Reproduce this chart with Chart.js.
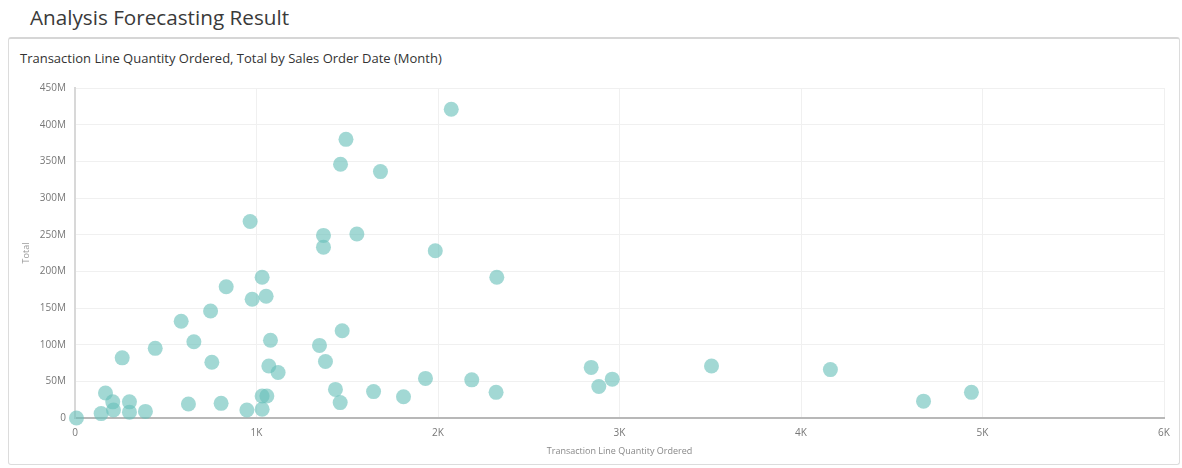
<!DOCTYPE html>
<html>
<head>
<meta charset="utf-8">
<script src="https://cdn.jsdelivr.net/npm/chart.js@4"></script>
<style>
  html, body { margin: 0; padding: 0; background: #fff; }
  body { width: 1182px; height: 468px; position: relative; overflow: hidden; font-family: 'Open Sans', sans-serif; }
  #heading { position: absolute; left: 30px; top: 3px; font-size: 20.7px; color: #3a3a3a; }
  #card { position: absolute; left: 8px; top: 37px; width: 1172px; height: 428px; border: 1px solid #dcdcdc; border-top: 2px solid #d6d6d6; border-radius: 3px; box-sizing: border-box; }
  #subtitle { position: absolute; left: 20px; top: 49px; font-size: 13px; color: #333; }
  #wrap { position: absolute; left: 0; top: 0; width: 1182px; height: 468px; }
</style>
</head>
<body>
<div id="heading">Analysis Forecasting Result</div>
<div id="card"></div>
<div id="subtitle">Transaction Line Quantity Ordered, Total by Sales Order Date (Month)</div>
<div id="wrap"><canvas id="scatterChart" width="1182" height="468"></canvas></div>
<script>
// quantity ordered per month
const qtyOrdered = [
    8, 144, 168, 208, 212, 260, 300, 300, 388, 442,
    585, 625, 655, 747, 754, 805, 833, 947, 965, 976,
    1031, 1053, 1031, 1057, 1031, 1077, 1068, 1119, 1347, 1369,
    1369, 1380, 1435, 1461, 1463, 1472, 1493, 1553, 1645, 1683,
    1810, 1931, 1985, 2073, 2186, 2320, 2324, 2844, 2886, 2960,
    3507, 4162, 4675, 4939
];
// total (millions)
const totalM = [
    0, 6, 34, 22, 11, 82, 22, 8, 9, 95,
    132, 19, 104, 146, 76, 20, 179, 11, 268, 162,
    192, 166, 30, 30, 12, 106, 71, 62, 99, 249,
    233, 77, 39, 21, 346, 119, 380, 251, 36, 336,
    29, 54, 228, 421, 52, 35, 192, 69, 43, 53,
    71, 66, 23, 35
];
const xTickLabels = ['0', '1K', '2K', '3K', '4K', '5K', '6K'];
const yTickLabels = ['0', '50M', '100M', '150M', '200M', '250M', '300M', '350M', '400M', '450M'];

const points = qtyOrdered.map((q, i) => ({ x: q, y: totalM[i] }));

new Chart(document.getElementById('scatterChart'), {
    type: 'scatter',
    data: {
        datasets: [{
            label: 'Total',
            data: points,
            backgroundColor: 'rgba(105, 192, 185, 0.62)',
            borderWidth: 0,
            pointRadius: 7.5,
            pointHoverRadius: 7.5,
            clip: false
        }]
    },
    options: {
        responsive: false,
        animation: false,
        layout: { padding: { left: 0, top: 88, right: 18, bottom: 0 } },
        plugins: { legend: { display: false }, tooltip: { enabled: false } },
        scales: {
            x: {
                type: 'linear', min: 0, max: 6000,
                afterFit: s => { s.height = 50; },
                afterBuildTicks: s => { s.ticks = xTickLabels.map((_, i) => ({ value: i * 1000 })); },
                ticks: {
                    padding: 9, color: '#777', font: { family: 'Open Sans', size: 10 },
                    maxRotation: 0, autoSkip: false,
                    callback: (v, i) => xTickLabels[i]
                },
                grid: { color: '#f0f0f0', drawTicks: false },
                border: { color: '#b8b8b8', width: 2 },
                title: {
                    display: true, text: 'Transaction Line Quantity Ordered',
                    color: '#888', font: { family: 'Open Sans', size: 9 },
                    padding: { top: 0, bottom: 11 }
                }
            },
            y: {
                type: 'linear', min: 0, max: 450,
                afterFit: s => { s.width = 75; },
                afterBuildTicks: s => { s.ticks = yTickLabels.map((_, i) => ({ value: i * 50 })); },
                ticks: {
                    padding: 9, color: '#777', font: { family: 'Open Sans', size: 10 },
                    autoSkip: false,
                    callback: (v, i) => yTickLabels[i]
                },
                grid: { color: '#f0f0f0', drawTicks: false },
                border: { color: '#d8d8d8', width: 2 },
                title: {
                    display: true, text: 'Total',
                    color: '#999', font: { family: 'Open Sans', size: 9 },
                    padding: { top: 21, bottom: 0 }
                }
            }
        }
    }
});
</script>
</body>
</html>
